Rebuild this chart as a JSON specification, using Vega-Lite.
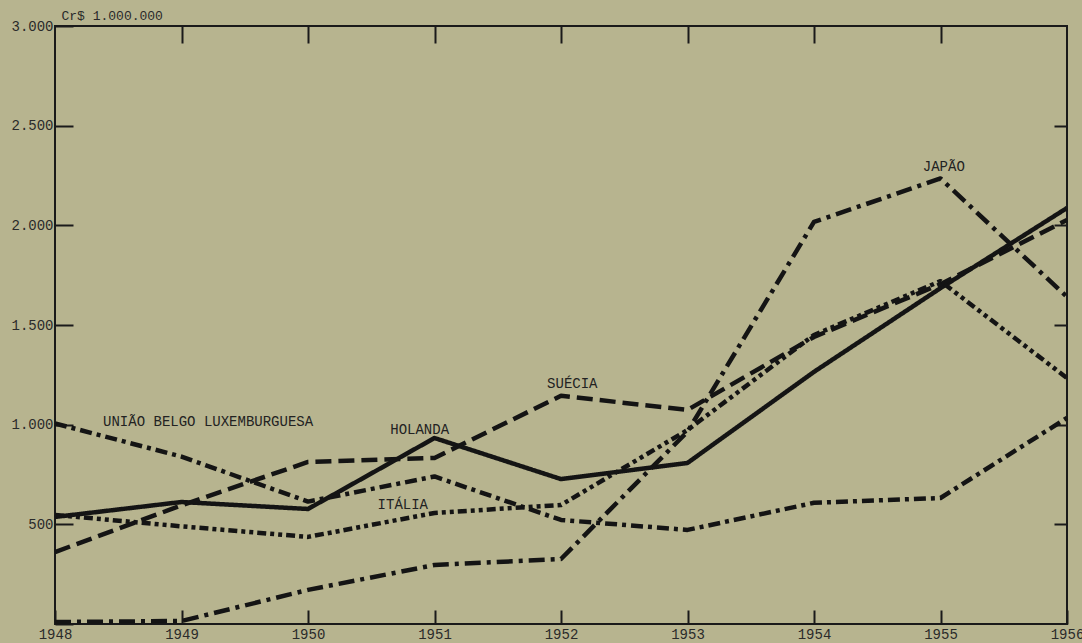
{
  "$schema": "https://vega.github.io/schema/vega-lite/v6.json",
  "width": 1012,
  "height": 598,
  "autosize": "none",
  "padding": {"left": 55, "top": 26, "right": 15, "bottom": 19},
  "background": "#b7b48f",
  "config": {
    "view": {"stroke": "#1a1a1a", "strokeWidth": 2},
    "axis": {
      "domain": false,
      "grid": false,
      "tickColor": "#1a1a1a",
      "tickWidth": 2,
      "labelFont": "Liberation Mono",
      "labelFontSize": 14,
      "labelColor": "#2a2a2a",
      "titleFont": "Liberation Mono",
      "titleFontSize": 13,
      "titleFontWeight": "normal",
      "titleColor": "#2a2a2a"
    }
  },
  "datasets": {
    "lines": [
      {"pais": "Holanda", "ano": 1948, "valor": 537},
      {"pais": "Holanda", "ano": 1949, "valor": 612},
      {"pais": "Holanda", "ano": 1950, "valor": 577},
      {"pais": "Holanda", "ano": 1951, "valor": 933},
      {"pais": "Holanda", "ano": 1952, "valor": 727},
      {"pais": "Holanda", "ano": 1953, "valor": 808},
      {"pais": "Holanda", "ano": 1954, "valor": 1265},
      {"pais": "Holanda", "ano": 1955, "valor": 1685},
      {"pais": "Holanda", "ano": 1956, "valor": 2087},
      {"pais": "Suécia", "ano": 1948, "valor": 361},
      {"pais": "Suécia", "ano": 1949, "valor": 595},
      {"pais": "Suécia", "ano": 1950, "valor": 813},
      {"pais": "Suécia", "ano": 1951, "valor": 833},
      {"pais": "Suécia", "ano": 1952, "valor": 1145},
      {"pais": "Suécia", "ano": 1953, "valor": 1074},
      {"pais": "Suécia", "ano": 1954, "valor": 1440},
      {"pais": "Suécia", "ano": 1955, "valor": 1705},
      {"pais": "Suécia", "ano": 1956, "valor": 2027},
      {"pais": "Japão", "ano": 1948, "valor": 10},
      {"pais": "Japão", "ano": 1949, "valor": 15},
      {"pais": "Japão", "ano": 1950, "valor": 171},
      {"pais": "Japão", "ano": 1951, "valor": 296},
      {"pais": "Japão", "ano": 1952, "valor": 326},
      {"pais": "Japão", "ano": 1953, "valor": 965},
      {"pais": "Japão", "ano": 1954, "valor": 2017},
      {"pais": "Japão", "ano": 1955, "valor": 2235},
      {"pais": "Japão", "ano": 1956, "valor": 1641},
      {"pais": "União Belgo Luxemburguesa", "ano": 1948, "valor": 1006},
      {"pais": "União Belgo Luxemburguesa", "ano": 1949, "valor": 840},
      {"pais": "União Belgo Luxemburguesa", "ano": 1950, "valor": 614},
      {"pais": "União Belgo Luxemburguesa", "ano": 1951, "valor": 740},
      {"pais": "União Belgo Luxemburguesa", "ano": 1952, "valor": 522},
      {"pais": "União Belgo Luxemburguesa", "ano": 1953, "valor": 472},
      {"pais": "União Belgo Luxemburguesa", "ano": 1954, "valor": 608},
      {"pais": "União Belgo Luxemburguesa", "ano": 1955, "valor": 632},
      {"pais": "União Belgo Luxemburguesa", "ano": 1956, "valor": 1034},
      {"pais": "Itália", "ano": 1948, "valor": 547},
      {"pais": "Itália", "ano": 1949, "valor": 490},
      {"pais": "Itália", "ano": 1950, "valor": 437},
      {"pais": "Itália", "ano": 1951, "valor": 557},
      {"pais": "Itália", "ano": 1952, "valor": 597},
      {"pais": "Itália", "ano": 1953, "valor": 973},
      {"pais": "Itália", "ano": 1954, "valor": 1450},
      {"pais": "Itália", "ano": 1955, "valor": 1720},
      {"pais": "Itália", "ano": 1956, "valor": 1234}
    ],
    "rotulos": [
      {"texto": "UNIÃO BELGO LUXEMBURGUESA", "ano": 1948.38, "valor": 1013},
      {"texto": "HOLANDA", "ano": 1950.65, "valor": 973},
      {"texto": "ITÁLIA", "ano": 1950.55, "valor": 597},
      {"texto": "SUÉCIA", "ano": 1951.89, "valor": 1204},
      {"texto": "JAPÃO", "ano": 1954.86, "valor": 2293}
    ]
  },
  "layer": [
    {
      "data": {"name": "lines"},
      "mark": {"type": "line", "color": "#141414", "strokeWidth": 4.5, "strokeCap": "butt", "strokeJoin": "round"},
      "encoding": {
        "x": {
          "field": "ano", "type": "quantitative",
          "scale": {"domain": [1948, 1956], "nice": false, "zero": false},
          "axis": {"orient": "bottom", "title": null, "values": [1948, 1949, 1950, 1951, 1952, 1953, 1954, 1955, 1956], "format": "d", "tickSize": -14, "labelPadding": 17, "labelFlush": false}
        },
        "y": {
          "field": "valor", "type": "quantitative",
          "scale": {"domain": [0, 3000], "nice": false},
          "axis": {"orient": "left", "title": "Cr$ 1.000.000", "titleAngle": 0, "titleAlign": "left", "titleBaseline": "bottom", "titleX": 6, "titleY": -4,
                   "values": [0, 500, 1000, 1500, 2000, 2500, 3000],
                   "labelExpr": "datum.value == 0 ? '' : replace(format(datum.value, ','), ',', '.')",
                   "tickSize": -18, "labelPadding": 20, "labelFlush": false}
        },
        "detail": {"field": "pais"},
        "strokeDash": {
          "field": "pais", "type": "nominal", "legend": null,
          "scale": {
            "domain": ["Holanda", "Suécia", "Japão", "União Belgo Luxemburguesa", "Itália"],
            "range": [[1, 0], [16, 7], [16, 6, 4, 6], [12, 5, 4, 5], [9, 4, 4, 4, 4, 4]]
          }
        },
        "strokeWidth": {
          "field": "pais", "type": "nominal", "legend": null,
          "scale": {"domain": ["Holanda", "Suécia", "Japão", "União Belgo Luxemburguesa", "Itália"], "range": [3.5, 5, 5, 5, 5]}
        }
      }
    },
    {
      "data": {"name": "lines"},
      "mark": {"type": "point", "opacity": 0},
      "encoding": {
        "x": {"field": "ano", "type": "quantitative",
              "axis": {"orient": "top", "title": null, "labels": false, "values": [1949, 1950, 1951, 1952, 1953, 1954, 1955], "tickSize": -17}},
        "y": {"field": "valor", "type": "quantitative",
              "axis": {"orient": "right", "title": null, "labels": false, "values": [500, 1000, 1500, 2000, 2500], "tickSize": -13}}
      }
    },
    {
      "data": {"name": "rotulos"},
      "mark": {"type": "text", "font": "Liberation Mono", "fontSize": 14, "color": "#222222", "align": "left", "baseline": "middle"},
      "encoding": {
        "x": {"field": "ano", "type": "quantitative", "axis": null},
        "y": {"field": "valor", "type": "quantitative", "axis": null},
        "text": {"field": "texto"}
      }
    }
  ],
  "resolve": {"axis": {"x": "independent", "y": "independent"}}
}
